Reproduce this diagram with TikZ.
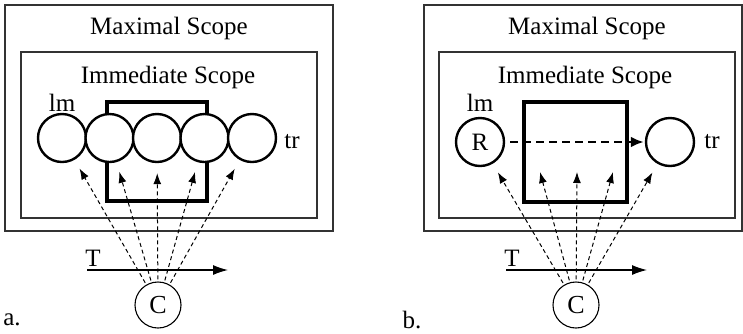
\documentclass[tikz,border=0pt]{standalone}
\usepackage{fontspec}
\setmainfont{Liberation Serif}
\usetikzlibrary{arrows.meta,calc}
\begin{document}
\begin{tikzpicture}[x=1pt,y=-1pt,
  txt/.style={font=\fontsize{25}{28}\selectfont, inner sep=0pt},
  scopebox/.style={draw=black!80, line width=1.2pt},
  ring/.style={circle, draw, line width=2.4pt, fill=white, minimum size=48pt, inner sep=0pt, font=\fontsize{25}{28}\selectfont},
  cnode/.style={circle, draw, line width=1.1pt, minimum size=46pt, inner sep=0pt, font=\fontsize{26}{28}\selectfont},
  focus/.style={line width=4.5pt},
  fan/.style={line width=1pt, dash pattern=on 4pt off 3pt, -{Latex[length=11pt,width=8pt]}, shorten <=2pt},
  timeline/.style={line width=1.2pt, -{Latex[length=15pt,width=10pt]}},
  path/.style={line width=2.6pt, dash pattern=on 8pt off 5pt, -{Latex[length=13pt,width=11pt]}},
  ]
\useasboundingbox (0,0) rectangle (743,333);

% ---------------- panel a ----------------
\draw[scopebox] (5,5) rectangle (333,231);
\draw[scopebox] (21,52) rectangle (317,218);
\node[txt] (maxa) at (169,28) {Maximal Scope};
\node[txt] (imma) at (168,77) {Immediate Scope};
\draw[focus] (107,102) rectangle (207,201);
\node[ring] (a1) at (62,138) {};
\node[ring] (a2) at (109.5,138) {};
\node[ring] (a3) at (157,138) {};
\node[ring] (a4) at (204.5,138) {};
\node[ring] (a5) at (252,138) {};
\node[txt] (lma) at (62,103) {lm};
\node[txt] (tra) at (292,142) {tr};
\node[cnode] (Ca) at (158,305) {C};
\foreach \t in {a1,a2,a3,a4,a5}
  \draw[fan, shorten >=10pt] (Ca) -- (\t);
\coordinate (Tas) at (87,270);
\coordinate (Tae) at (228,270);
\draw[timeline] (Tas) -- (Tae);
\node[txt] (Tla) at (93,258) {T};
\node[txt] (laba) at (12,320) {a.};

% ---------------- panel b ----------------
\draw[scopebox] (424,5) rectangle (742,231);
\draw[scopebox] (439,52) rectangle (735,218);
\node[txt] (maxb) at (587,28) {Maximal Scope};
\node[txt] (immb) at (585,77) {Immediate Scope};
\draw[focus] (524,102) rectangle (627,202);
\node[ring] (R) at (480,142) {R};
\node[ring] (trb) at (670,142) {};
\node[txt] (lmb) at (480,103) {lm};
\node[txt] (trlb) at (712,142) {tr};
\draw[path, shorten <=5pt, shorten >=1pt] (R) -- (trb);
\node[cnode] (Cb) at (576,305) {C};
\coordinate (m1) at (540,172);
\coordinate (m2) at (577,172);
\coordinate (m3) at (613,172);
\draw[fan, shorten >=10pt] (Cb) -- (R);
\draw[fan, shorten >=10pt] (Cb) -- (trb);
\foreach \t in {m1,m2,m3}
  \draw[fan] (Cb) -- (\t);
\coordinate (Tbs) at (506,270);
\coordinate (Tbe) at (647,270);
\draw[timeline] (Tbs) -- (Tbe);
\node[txt] (Tlb) at (512,258) {T};
\node[txt] (labb) at (412,320) {b.};
\end{tikzpicture}
\end{document}
